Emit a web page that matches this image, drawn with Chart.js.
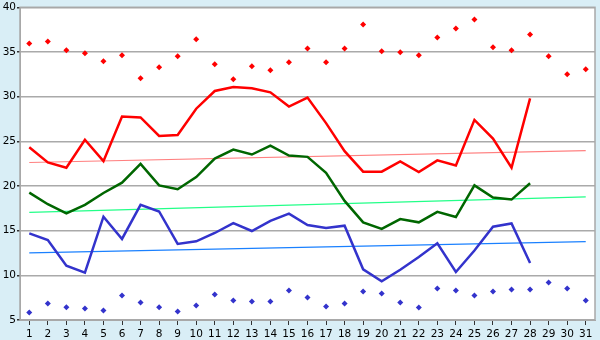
<!DOCTYPE html>
<html>
<head>
<meta charset="utf-8">
<script src="https://cdn.jsdelivr.net/npm/chart.js@4"></script>
<style>
  html, body { margin: 0; padding: 0; background: #d9eef6; }
  #wrap { width: 600px; height: 340px; }
</style>
</head>
<body>
<div id="wrap"><canvas id="chart" width="600" height="340"></canvas></div>
<script>
const days = Array.from({length: 31}, (_, i) => String(i + 1));
const yTicks = [5, 10, 15, 20, 25, 30, 35, 40];

const redLine = [24.33, 22.63, 22.04, 25.18, 22.78, 27.78, 27.67, 25.6, 25.7, 28.65,
    30.63, 31.07, 30.93, 30.48, 28.89, 29.9, 27.04, 23.9, 21.6, 21.6,
    22.74, 21.55, 22.87, 22.3, 27.4, 25.3, 22.04, 29.8];
const greenLine = [19.26, 17.96, 16.93, 17.89, 19.22, 20.37, 22.48, 20.07, 19.63, 21.0,
    23.07, 24.07, 23.52, 24.52, 23.41, 23.26, 21.48, 18.33, 15.93, 15.19,
    16.3, 15.93, 17.1, 16.52, 20.07, 18.7, 18.48, 20.3];
const blueLine = [14.7, 13.96, 11.07, 10.3, 16.56, 14.07, 17.89, 17.15, 13.52, 13.81,
    14.74, 15.85, 14.96, 16.1, 16.9, 15.63, 15.3, 15.56, 10.67, 9.33,
    10.63, 12.04, 13.59, 10.37, 12.78, 15.44, 15.81, 11.37];
const maxPoints = [35.96, 36.18, 35.19, 34.85, 33.96, 34.63, 32.07, 33.3, 34.52, 36.41,
    33.63, 31.96, 33.4, 32.96, 33.85, 35.4, 33.85, 35.4, 38.07, 35.07,
    34.96, 34.63, 36.63, 37.63, 38.63, 35.52, 35.19, 36.96, 34.52, 32.52, 33.07];
const minPoints = [5.85, 6.85, 6.44, 6.3, 6.07, 7.74, 6.96, 6.44, 5.96, 6.63,
    7.85, 7.19, 7.07, 7.07, 8.3, 7.52, 6.52, 6.85, 8.19, 7.96,
    6.96, 6.41, 8.52, 8.3, 7.74, 8.19, 8.41, 8.41, 9.19, 8.52, 7.19];
// trend lines: value at first and last day
const redTrend = [22.63, 23.96];
const greenTrend = [17.04, 18.78];
const blueTrend = [12.52, 13.78];

function trendData(t) {
    return days.map((d, i) => i === 0 ? t[0] : (i === days.length - 1 ? t[1] : null));
}

function lineSet(data, color, width) {
    return {
        data: data,
        borderColor: color,
        borderWidth: width,
        pointRadius: 0,
        tension: 0,
        fill: false,
        spanGaps: true
    };
}

function dotSet(data, color) {
    return {
        data: data,
        showLine: false,
        pointStyle: 'rectRot',
        pointRadius: 3,
        pointBackgroundColor: color,
        pointBorderColor: color,
        pointBorderWidth: 0,
        borderColor: color
    };
}

const bgPlugin = {
    id: 'bg',
    beforeDraw(chart) {
        const c = chart.ctx, a = chart.chartArea;
        c.save();
        c.fillStyle = '#d9eef6';
        c.fillRect(0, 0, chart.width, chart.height);
        c.fillStyle = '#ffffff';
        c.fillRect(a.left, a.top, a.right - a.left, a.bottom - a.top);
        c.restore();
    },
    afterDraw(chart) {
        const c = chart.ctx, a = chart.chartArea;
        c.save();
        c.strokeStyle = '#a8a8a8';
        c.lineWidth = 1.5;
        c.strokeRect(a.left, a.top, a.right - a.left, a.bottom - a.top);
        c.restore();
    }
};

const font = { family: 'DejaVu Sans', size: 10.5 };

new Chart(document.getElementById('chart'), {
    type: 'line',
    data: {
        labels: days,
        datasets: [
            lineSet(redLine, '#ff0000', 2.5),
            lineSet(greenLine, '#006600', 2.5),
            lineSet(blueLine, '#3333cc', 2.5),
            lineSet(trendData(redTrend), '#ff8080', 1.2),
            lineSet(trendData(greenTrend), '#22ff88', 1.2),
            lineSet(trendData(blueTrend), '#1a80ff', 1.2),
            dotSet(maxPoints, '#ff0000'),
            dotSet(minPoints, '#3333cc')
        ]
    },
    options: {
        responsive: false,
        animation: false,
        layout: { padding: { top: 5, right: 5, left: 0, bottom: 0 } },
        plugins: {
            legend: { display: false },
            tooltip: { enabled: false }
        },
        scales: {
            x: {
                offset: true,
                grid: { offset: false, drawOnChartArea: false, tickLength: 5, tickColor: '#333333' },
                border: { color: '#a8a8a8' },
                ticks: { color: '#000000', font: font, autoSkip: false, maxRotation: 0, padding: 3 },
                afterFit(s) { s.height = 20; }
            },
            y: {
                min: 5,
                max: 40,
                afterBuildTicks(s) { s.ticks = yTicks.map(v => ({ value: v })); },
                grid: { color: '#aaaaaa', lineWidth: 1.5, tickLength: 3, tickColor: '#333333' },
                border: { color: '#a8a8a8' },
                ticks: { color: '#000000', font: font, padding: 1 },
                afterFit(s) { s.width = 20; }
            }
        }
    },
    plugins: [bgPlugin]
});
</script>
</body>
</html>
